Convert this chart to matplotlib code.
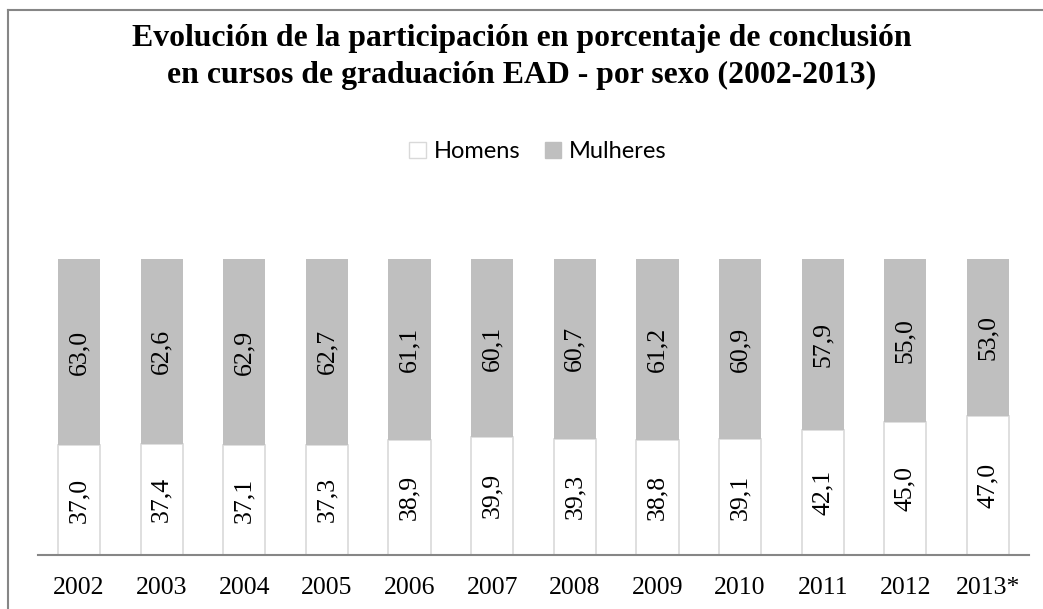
import matplotlib.pyplot as plt
from matplotlib.lines import Line2D
from matplotlib.patches import Patch

years = ["2002", "2003", "2004", "2005", "2006", "2007", "2008", "2009", "2010", "2011", "2012", "2013*"]
homens = [37.0, 37.4, 37.1, 37.3, 38.9, 39.9, 39.3, 38.8, 39.1, 42.1, 45.0, 47.0]
mulheres = [63.0, 62.6, 62.9, 62.7, 61.1, 60.1, 60.7, 61.2, 60.9, 57.9, 55.0, 53.0]

gray = "#bfbfbf"
edge = "#d9d9d9"
axis_col = "#868686"

fig = plt.figure(figsize=(10.43, 6.09), dpi=100)
ax = fig.add_axes([0.0361, 0.0887, 0.9508, 0.486])

x = list(range(len(years)))
ax.bar(x, homens, width=0.51, color="white", edgecolor=edge, linewidth=1.2)
ax.bar(x, mulheres, width=0.51, bottom=homens, color=gray, edgecolor=gray, linewidth=0)

def fmt(v):
    return ("%.1f" % v).replace(".", ",")

for i in x:
    ax.text(i, homens[i] / 2, fmt(homens[i]), rotation=90, ha="center", va="center",
            family="Liberation Serif", fontsize=18.5)
    ax.text(i, homens[i] + mulheres[i] / 2, fmt(mulheres[i]), rotation=90, ha="center", va="center",
            family="Liberation Serif", fontsize=18.5)

ax.set_xlim(-0.5, len(years) - 0.5)
ax.set_ylim(0, 100)
ax.set_yticks([])
ax.set_xticks(x)
ax.set_xticklabels(years, family="Liberation Serif", fontsize=18.5)
ax.tick_params(axis="x", length=0, pad=16)
for s in ["top", "right", "left"]:
    ax.spines[s].set_visible(False)
ax.spines["bottom"].set_color(axis_col)
ax.spines["bottom"].set_linewidth(1.5)

fig.text(0.5, 0.906, "Evolución de la participación en porcentaje de conclusión\nen cursos de graduación EAD - por sexo (2002-2013)",
         ha="center", va="center", family="Liberation Serif", fontweight="bold", fontsize=22.9,
         linespacing=1.34)

handles = [Patch(facecolor="white", edgecolor=edge, label="Homens"),
           Patch(facecolor=gray, edgecolor=gray, label="Mulheres")]
fig.legend(handles=handles, loc="center", bbox_to_anchor=(0.516, 0.751), ncol=2, frameon=False,
           prop={"family": "Lato", "size": 17}, handlelength=0.68, handleheight=0.68,
           handletextpad=0.34, columnspacing=1.06)

fig.add_artist(Line2D([0.0077, 0.0077], [0, 0.984], color=axis_col, linewidth=1.5, transform=fig.transFigure))
fig.add_artist(Line2D([0.0077, 1.0], [0.984, 0.984], color=axis_col, linewidth=1.5, transform=fig.transFigure))

fig.savefig("out.png", dpi=100)
